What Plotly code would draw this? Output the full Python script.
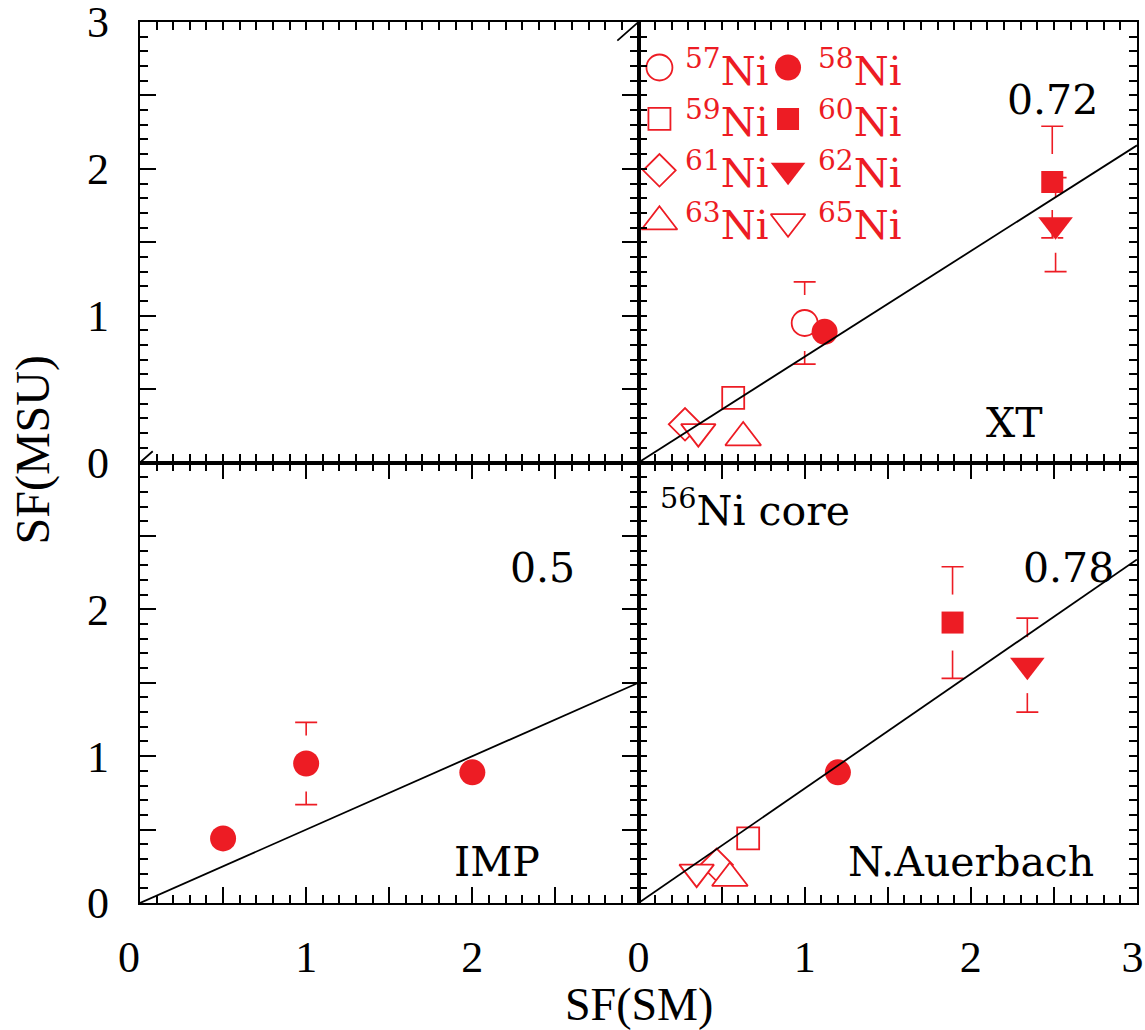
import plotly.graph_objects as go

RED = "#ED1C24"
SERIF = "Liberation Serif"
LABEL_FONT = "DejaVu Serif"

# Isotopes and their plotting symbols
isotopes = ["57", "58", "59", "60", "61", "62", "63", "65"]
symbols = ["circle", "circle", "square", "square", "diamond",
           "triangle-down", "triangle-up", "triangle-down"]
filled = [False, True, False, True, False, True, False, False]
sizes = [26, 26, 22, 22, 25, 30, 31, 30]

# Spectroscopic factors from MSU analysis (y values) and their errors
sf_msu = [0.95, 0.89, 0.44, 1.91, 0.26, 1.62, 0.17, 0.21]
msu_err = [0.28, 0.0, 0.0, 0.38, 0.0, 0.32, 0.0, 0.0]

# Shell-model SF with the XT interaction (all isotopes)
sf_xt = [1.00, 1.12, 0.57, 2.49, 0.28, 2.51, 0.63, 0.36]
# Shell-model SF from N.Auerbach (no 57Ni value)
sf_auerbach = [None, 1.20, 0.66, 1.89, 0.47, 2.34, 0.55, 0.35]
# IMP interaction: 57Ni, 58Ni, 59Ni only
imp_isotopes = ["57", "58", "59"]
sf_imp = [1.00, 2.00, 0.50]

# Fitted slopes per interaction
slope_imp = 0.5
slope_xt = 0.72
slope_auerbach = 0.78

AX_MAX = 3.0

fig = go.Figure()


def marker_style(i, uniform=False):
    if uniform:
        return dict(symbol="circle", size=26, color=RED, line=dict(width=0))
    if filled[i]:
        return dict(symbol=symbols[i], size=sizes[i], color=RED,
                    line=dict(width=0))
    return dict(symbol=symbols[i], size=sizes[i], color="white",
                line=dict(color=RED, width=1.8))


def add_panel(xvals, idx, xa, ya, slope, uniform=False):
    pts = [(xvals[k], sf_msu[i], msu_err[i], i) for k, i in enumerate(idx)
           if xvals[k] is not None]
    # error bars first
    for x, y, e, i in pts:
        if e > 0:
            fig.add_trace(go.Scatter(
                x=[x], y=[y], mode="markers", xaxis=xa, yaxis=ya,
                marker=dict(opacity=0, size=2),
                error_y=dict(type="data", array=[e], color=RED,
                             thickness=1.6, width=11),
                hoverinfo="skip"))
    # white gap around markers that carry an error bar
    for x, y, e, i in pts:
        if e > 0:
            fig.add_trace(go.Scatter(
                x=[x], y=[y], mode="markers", xaxis=xa, yaxis=ya,
                marker=dict(symbol="line-ns", size=40,
                            line=dict(color="white", width=4)),
                hoverinfo="skip"))
    for x, y, e, i in pts:
        fig.add_trace(go.Scatter(
            x=[x], y=[y], mode="markers", xaxis=xa, yaxis=ya,
            marker=marker_style(i, uniform), name=isotopes[i] + "Ni"))
    fig.add_trace(go.Scatter(
        x=[0, AX_MAX], y=[0, slope * AX_MAX], mode="lines",
        xaxis=xa, yaxis=ya, line=dict(color="black", width=1.8),
        hoverinfo="skip"))


# bottom-left: IMP
add_panel(sf_imp, [isotopes.index(s) for s in imp_isotopes], "x", "y",
          slope_imp, uniform=True)
# bottom-right: N.Auerbach
add_panel(sf_auerbach, list(range(len(isotopes))), "x2", "y2", slope_auerbach)
# top-right: XT
add_panel(sf_xt, list(range(len(isotopes))), "x4", "y4", slope_xt)

# top-left: empty panel, only the ends of its diagonal are drawn
fig.add_trace(go.Scatter(
    x=[0, AX_MAX], y=[0, AX_MAX], mode="lines", xaxis="x3", yaxis="y3",
    line=dict(color="black", width=1.8, dash="17px,620px,28px"),
    hoverinfo="skip"))

# isotope key inside the XT panel: two columns, four rows
KEY_SYM_X = [0.126, 0.90]
KEY_TXT_X = [0.27, 1.07]
KEY_ROW0 = 2.69
KEY_ROW_STEP = 0.35
annotations = []
for i, iso in enumerate(isotopes):
    col, row = i % 2, i // 2
    yk = KEY_ROW0 - row * KEY_ROW_STEP
    fig.add_trace(go.Scatter(
        x=[KEY_SYM_X[col]], y=[yk], mode="markers", xaxis="x4", yaxis="y4",
        marker=marker_style(i), hoverinfo="skip"))
    annotations.append(dict(
        x=KEY_TXT_X[col], y=yk, xref="x4", yref="y4", xanchor="left",
        yanchor="middle", showarrow=False,
        text="<sup>%s</sup>Ni" % iso,
        font=dict(family=LABEL_FONT, size=40, color=RED)))

label_font = dict(family=LABEL_FONT, size=41, color="black")
panel_labels = [
    ("0.72", 2.49, 2.47, "x4", "y4", "center"),
    ("XT", 2.26, 0.27, "x4", "y4", "center"),
    ("0.78", 2.59, 2.28, "x2", "y2", "center"),
    ("N.Auerbach", 2.0, 0.28, "x2", "y2", "center"),
    ("<sup>56</sup>Ni core", 0.12, 2.69, "x2", "y2", "left"),
    ("0.5", 2.42, 2.28, "x", "y", "center"),
    ("IMP", 2.15, 0.28, "x", "y", "center"),
]
for text, x, y, xr, yr, anc in panel_labels:
    annotations.append(dict(x=x, y=y, xref=xr, yref=yr, text=text,
                            xanchor=anc, yanchor="middle", showarrow=False,
                            font=label_font))

annotations.append(dict(x=0.5, y=-0.115, xref="paper", yref="paper",
                        text="SF(SM)", showarrow=False, xanchor="center",
                        yanchor="middle",
                        font=dict(family=SERIF, size=46, color="black")))
annotations.append(dict(x=-0.107, y=0.514, xref="paper", yref="paper",
                        text="SF(MSU)", showarrow=False, textangle=-90,
                        xanchor="center", yanchor="middle",
                        font=dict(family=SERIF, size=48, color="black")))

major_vals = [0, 0.5, 1, 1.5, 2, 2.5, 3]


def axis(domain, anchor, labels=None, standoff=0):
    d = dict(
        domain=domain, anchor=anchor, range=[0, AX_MAX],
        showgrid=False, zeroline=False, showline=True, mirror="ticks",
        linecolor="black", linewidth=2.2,
        ticks="inside", ticklen=16, tickwidth=2, tickcolor="black",
        tickmode="array", tickvals=major_vals,
        ticktext=labels if labels else [""] * len(major_vals),
        showticklabels=labels is not None,
        tickfont=dict(family=SERIF, size=44, color="black"),
        ticklabelstandoff=standoff,
        ticklabeloverflow="allow",
        automargin=False,
        minor=dict(ticks="inside", tickmode="linear", tick0=0, dtick=0.1,
                   ticklen=8, tickwidth=1.5, tickcolor="black"),
        fixedrange=True,
    )
    return d


fig.update_layout(
    width=1145, height=1030,
    margin=dict(l=140, r=8, t=22, b=127, autoexpand=False),
    paper_bgcolor="white", plot_bgcolor="white",
    showlegend=False,
    xaxis=axis([0, 0.5], "y", ["0\u2002", "", "1", "", "2", "", ""], 14),
    yaxis=axis([0, 0.5], "x", ["0", "", "1", "", "2", "", ""], 20),
    xaxis2=axis([0.5, 1], "y2",
                ["0", "", "1", "", "2", "", "3\u2009"], 14),
    yaxis2=axis([0, 0.5], "x2"),
    xaxis3=axis([0, 0.5], "y3"),
    yaxis3=axis([0.5, 1], "x3", ["0", "", "1", "", "2", "", "3"], 20),
    xaxis4=axis([0.5, 1], "y4"),
    yaxis4=axis([0.5, 1], "x4"),
    annotations=annotations,
)

fig.write_html("out.html")
